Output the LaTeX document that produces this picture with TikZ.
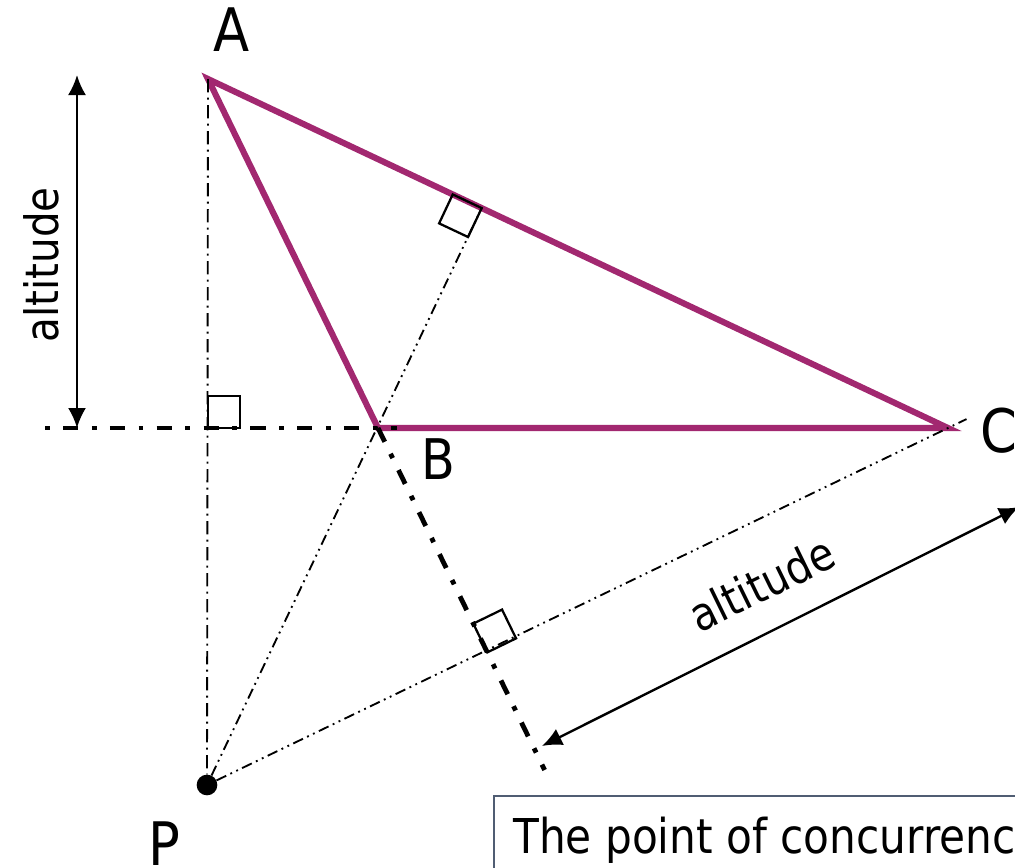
\documentclass[tikz,border=0pt]{standalone}
\usepackage{fontspec}
\setmainfont{DejaVu Sans}[FakeStretch=0.88]
\usetikzlibrary{calc,arrows.meta}
\definecolor{tricol}{RGB}{162,40,112}
\definecolor{boxcol}{RGB}{80,93,115}
\tikzset{
  triline/.style={draw=tricol, line width=4.6pt, line join=miter},
  thickdd/.style={line width=3.6pt, dash pattern=on 11.5pt off 10pt on 3.6pt off 10pt},
  thickddl/.style={line width=3.6pt, dash pattern=on 3.6pt off 10pt on 11.5pt off 10pt},
  thindd/.style={line width=1.4pt, dash pattern=on 10pt off 4pt on 1.5pt off 4pt},
  thinddd/.style={line width=1.4pt, dash pattern=on 8pt off 3.5pt on 1.4pt off 3.5pt on 1.4pt off 3.5pt},
  rightang/.style={line width=1.7pt, line join=miter},
  dimarrow/.style={line width=1.8pt, {Latex[length=15pt,width=13.5pt]}-{Latex[length=15pt,width=13.5pt]}},
  ptlabel/.style={font=\fontsize{45pt}{50pt}\selectfont, inner sep=0pt},
  altlabel/.style={font=\fontsize{34.5pt}{40pt}\selectfont, inner sep=0pt},
  notetext/.style={font=\fontsize{36pt}{42pt}\selectfont, inner sep=0pt},
  notebox/.style={draw=boxcol, line width=1.6pt, anchor=north west, minimum width=600pt, minimum height=120pt, inner sep=0pt},
  dot/.style={circle, fill=black, inner sep=0pt, minimum size=15.5pt},
}
\begin{document}
\begin{tikzpicture}[x=0.75pt,y=-0.75pt]
\useasboundingbox (0,0) rectangle (1015,868);
\clip (0,0) rectangle (1015,868);

% vertices
\coordinate (A) at (208,79);
\coordinate (B) at (378,428);
\coordinate (C) at (948,428);
\node[dot] (P) at (207,785) {};

% feet of altitudes
\coordinate (F0) at (208,428);
\coordinate (F1) at ($(A)!(B)!(C)$);
\coordinate (F2) at ($(A)!(C)!(B)$);
\coordinate (E0) at (45,428);
\coordinate (E1) at (397,428);
\coordinate (E2) at ($(A)!1.98!(B)$);
\coordinate (E3) at ($(P)!1.025!(C)$);

% triangle
\draw[triline] (A) -- (B) -- (C) -- cycle;

% extensions of sides
\draw[thickddl] (E0) -- (E1);
\draw[thickdd] (B) -- (E2);

% altitudes
\draw[thindd] (A) -- (P);
\draw[thinddd] (P) -- (F1);
\draw[thinddd] (P) -- (E3);

% right angle marks
\coordinate (F0a) at ($(F0)!24pt!(A)$);
\coordinate (F0c) at ($(F0)!24pt!(C)$);
\draw[rightang] (F0) -- (F0a) -- ($(F0a)+(F0c)-(F0)$) -- (F0c) -- cycle;
\coordinate (F1a) at ($(F1)!24pt!(A)$);
\coordinate (F1b) at ($(F1)!24pt!(B)$);
\draw[rightang] (F1) -- (F1a) -- ($(F1a)+(F1b)-(F1)$) -- (F1b) -- cycle;
\coordinate (F2a) at ($(F2)!24pt!(A)$);
\coordinate (F2c) at ($(F2)!24pt!(C)$);
\draw[rightang] (F2) -- (F2a) -- ($(F2a)+(F2c)-(F2)$) -- (F2c) -- cycle;

% dimension arrows
\coordinate (T1) at (77,75);
\coordinate (T2) at (77,428);
\draw[dimarrow] (T1) -- (T2);
\coordinate (D1) at (542,746);
\coordinate (D2) at (1019,507);
\draw[dimarrow] (D1) -- (D2);

% labels
\node[ptlabel, anchor=base] (lA) at (232,51) {A};
\node[ptlabel, anchor=base, font=\fontsize{42pt}{47pt}\selectfont] (lB) at (438,479) {B};
\node[ptlabel, anchor=base] (lC) at (999,452) {C};
\node[ptlabel, anchor=base] (lP) at (164,865) {P};
\node[altlabel, anchor=base, rotate=90] (alt1) at (58,265) {altitude};
\node[altlabel, anchor=base, rotate=26] (alt2) at (769,599) {altitude};

% note box
\node[notebox] (box) at (493,795) {};
\node[notetext, anchor=base west] (note) at (513,853) {The point of concurrence};
\end{tikzpicture}
\end{document}
